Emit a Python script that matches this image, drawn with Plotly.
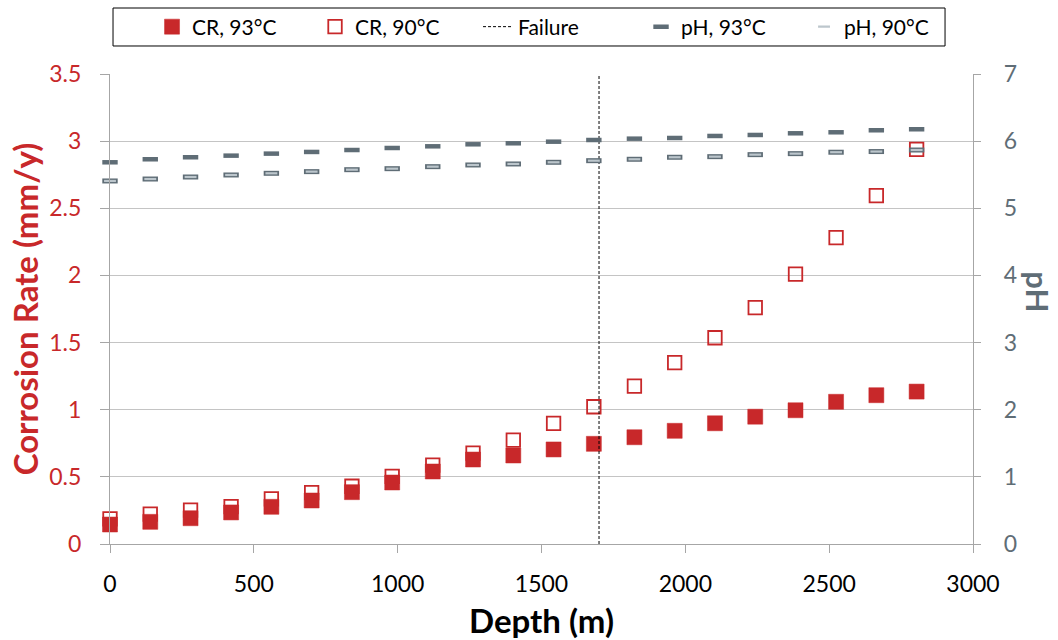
import plotly.graph_objects as go

# ---------------- data ----------------
depth_m = [0, 140, 280, 421, 561, 701, 841, 981, 1122, 1262, 1402,
           1542, 1682, 1823, 1963, 2103, 2243, 2383, 2524, 2664, 2804]
cr_93 = [0.145, 0.165, 0.192, 0.235, 0.277, 0.324, 0.386, 0.458, 0.540, 0.629, 0.659,
         0.704, 0.746, 0.795, 0.843, 0.899, 0.948, 0.996, 1.059, 1.108, 1.135]
cr_90 = [0.187, 0.222, 0.252, 0.279, 0.336, 0.383, 0.430, 0.503, 0.587, 0.676, 0.773,
         0.899, 1.022, 1.175, 1.350, 1.536, 1.760, 2.010, 2.281, 2.594, 2.939]
ph_93 = [5.685, 5.730, 5.760, 5.784, 5.814, 5.839, 5.868, 5.898, 5.923, 5.953, 5.968,
         5.992, 6.017, 6.037, 6.047, 6.077, 6.092, 6.117, 6.132, 6.162, 6.177]
ph_90 = [5.407, 5.436, 5.466, 5.496, 5.521, 5.546, 5.575, 5.590, 5.620, 5.645, 5.660,
         5.685, 5.709, 5.730, 5.760, 5.769, 5.799, 5.814, 5.835, 5.845, 5.868]
failure_depth = 1700

x_ticks = [0, 500, 1000, 1500, 2000, 2500, 3000]
x_ticktext = ["0", "500", "1000", "1500", "2000", "2500", "3000"]
cr_ticks = [0, 0.5, 1, 1.5, 2, 2.5, 3, 3.5]
cr_ticktext = ["0", "0.5", "1", "1.5", "2", "2.5", "3", "3.5"]
ph_ticks = [0, 1, 2, 3, 4, 5, 6, 7]
ph_ticktext = ["0", "1", "2", "3", "4", "5", "6", "7"]

# ---------------- style ----------------
RED = "#C8282A"
SLATE = "#5F6D76"
LIGHT = "#BCC6CC"
FONT = "Lato"

fig = go.Figure()

fig.add_trace(go.Scatter(
    x=depth_m, y=cr_90, name="CR, 90°C", mode="markers", legendrank=2,
    marker=dict(symbol="square-open", size=13.5, color=RED, line=dict(color=RED, width=1.8)),
    cliponaxis=False))
fig.add_trace(go.Scatter(
    x=depth_m, y=cr_93, name="CR, 93°C", mode="markers", legendrank=1,
    marker=dict(symbol="square", size=15, color=RED, line=dict(color=RED, width=0.5)),
    cliponaxis=False))
fig.add_trace(go.Scatter(
    x=[failure_depth, failure_depth], y=[cr_ticks[0], cr_ticks[-1]], name="Failure",
    mode="lines", legendrank=3,
    line=dict(color="black", width=1, dash="3px,2px")))
fig.add_trace(go.Scatter(
    x=depth_m, y=ph_93, name="pH, 93°C", mode="markers", yaxis="y2", legendrank=4,
    marker=dict(symbol="line-ew", size=11, color=SLATE, line=dict(color=SLATE, width=4.5)),
    cliponaxis=False))
fig.add_trace(go.Scatter(
    x=depth_m, y=ph_90, name="pH, 90°C", mode="markers", yaxis="y2", showlegend=False,
    marker=dict(symbol="line-ew", size=11, color=SLATE, line=dict(color=SLATE, width=5)),
    cliponaxis=False))
fig.add_trace(go.Scatter(
    x=depth_m, y=ph_90, name="pH, 90°C", mode="markers", yaxis="y2", legendrank=5,
    marker=dict(symbol="line-ew", size=8.5, color=LIGHT, line=dict(color=LIGHT, width=2.2)),
    cliponaxis=False))

fig.update_layout(
    width=1058, height=640,
    margin=dict(l=110, r=85, t=74, b=96, autoexpand=False),
    paper_bgcolor="white", plot_bgcolor="white",
    font=dict(family=FONT, size=20, color="black"),
    showlegend=True,
    legend=dict(
        orientation="h", x=0.0487, xanchor="left", y=1.10, yanchor="middle",
        borderwidth=0, bgcolor="rgba(0,0,0,0)",
        entrywidth=118, entrywidthmode="pixels",
        font=dict(family=FONT, size=21, color="black"), itemsizing="trace",
        traceorder="normal"),
    shapes=[dict(type="rect", xref="paper", yref="paper",
                 x0=0.0035, x1=0.9676, y0=1.0596, y1=1.1404,
                 line=dict(color="black", width=1), fillcolor="rgba(0,0,0,0)")],
    xaxis=dict(
        range=[0, 3000], tickvals=x_ticks, ticktext=x_ticktext,
        showgrid=False, zeroline=False,
        showline=True, linecolor="#A6A6A6", linewidth=1.3,
        ticks="outside", ticklen=8, tickcolor="#A6A6A6", tickwidth=1.3,
        ticklabelstandoff=11,
        tickfont=dict(family=FONT, size=23, color="black"),
        title=dict(text="<b>Depth (m)</b>", standoff=15,
                   font=dict(family=FONT, size=33, color="black"))),
    yaxis=dict(
        range=[0, 3.5], tickvals=cr_ticks, ticktext=cr_ticktext,
        showgrid=True, gridcolor="#C4C4C4", gridwidth=1.3, zeroline=False,
        showline=True, linecolor="#A6A6A6", linewidth=1.3,
        ticks="outside", ticklen=9, tickcolor="#A6A6A6", tickwidth=1.3,
        ticklabelstandoff=14,
        tickfont=dict(family=FONT, size=23, color=RED),
        title=dict(text="<b>Corrosion Rate (mm/y)</b>", standoff=0,
                   font=dict(family=FONT, size=33, color=RED))),
    yaxis2=dict(
        range=[0, 7], tickvals=ph_ticks, ticktext=ph_ticktext,
        overlaying="y", side="right", showgrid=False, zeroline=False,
        showline=True, linecolor="#A6A6A6", linewidth=1.3,
        ticks="outside", ticklen=7, tickcolor="#A6A6A6", tickwidth=1.3,
        ticklabelstandoff=18,
        tickfont=dict(family=FONT, size=23, color=SLATE)),
    annotations=[dict(
        text="<b>pH</b>", xref="paper", yref="paper", x=1.075, y=0.536,
        xanchor="center", yanchor="middle", textangle=90, showarrow=False,
        font=dict(family=FONT, size=31, color=SLATE))],
)

fig.write_html("out.html")
